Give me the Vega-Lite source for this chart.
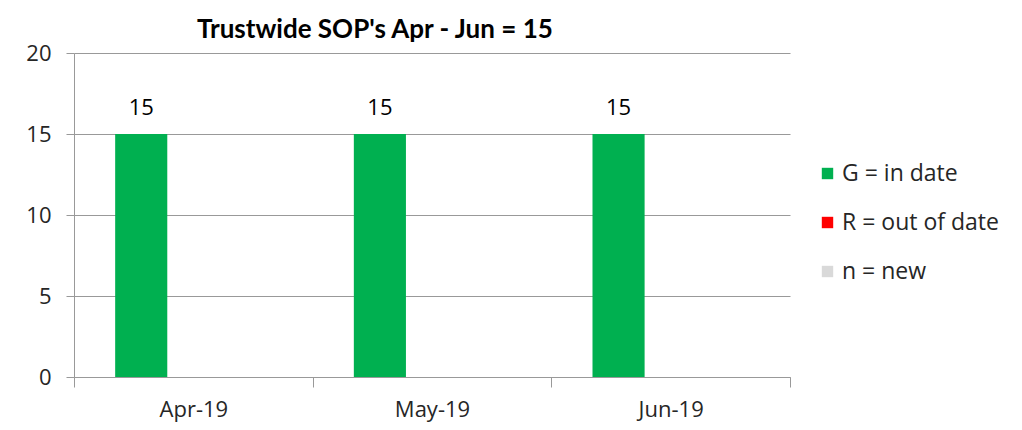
{
  "$schema": "https://vega.github.io/schema/vega-lite/v6.json",
  "width": 716,
  "height": 324,
  "autosize": {"type": "none"},
  "padding": {"left": 74, "top": 53, "right": 232, "bottom": 53},
  "background": "white",
  "title": {
    "text": "Trustwide SOP's Apr - Jun  = 15",
    "anchor": "start",
    "frame": "group",
    "dx": 123,
    "offset": -1,
    "font": "Lato",
    "fontSize": 26,
    "fontWeight": "bold",
    "color": "#000000"
  },
  "data": {
    "values": [
      {"month": "Apr-19", "status": "G = in date", "count": 15},
      {"month": "Apr-19", "status": "R = out of date", "count": 0},
      {"month": "Apr-19", "status": "n = new", "count": 0},
      {"month": "May-19", "status": "G = in date", "count": 15},
      {"month": "May-19", "status": "R = out of date", "count": 0},
      {"month": "May-19", "status": "n = new", "count": 0},
      {"month": "Jun-19", "status": "G = in date", "count": 15},
      {"month": "Jun-19", "status": "R = out of date", "count": 0},
      {"month": "Jun-19", "status": "n = new", "count": 0}
    ]
  },
  "encoding": {
    "x": {
      "field": "month",
      "type": "nominal",
      "sort": ["Apr-19", "May-19", "Jun-19"],
      "scale": {"paddingInner": 0, "paddingOuter": 0},
      "axis": {
        "title": null,
        "labelAngle": 0,
        "tickBand": "extent",
        "tickSize": 10,
        "labelPadding": 12,
        "domainColor": "#999999",
        "tickColor": "#999999",
        "labelFont": "Open Sans",
        "labelFontSize": 22,
        "labelColor": "#262626",
        "grid": false
      }
    },
    "xOffset": {
      "field": "status",
      "type": "nominal",
      "sort": ["G = in date", "R = out of date", "n = new"],
      "scale": {"paddingInner": 0, "paddingOuter": 0.79}
    },
    "y": {
      "field": "count",
      "type": "quantitative",
      "scale": {"domain": [0, 20]},
      "axis": {
        "title": null,
        "values": [0, 5, 10, 15, 20],
        "tickSize": 8,
        "labelPadding": 15,
        "domainColor": "#999999",
        "tickColor": "#999999",
        "gridColor": "#999999",
        "labelFont": "Open Sans",
        "labelFontSize": 22,
        "labelColor": "#262626"
      }
    }
  },
  "layer": [
    {
      "mark": {"type": "bar"},
      "encoding": {
        "color": {
          "field": "status",
          "type": "nominal",
          "sort": ["G = in date", "R = out of date", "n = new"],
          "scale": {
            "domain": ["G = in date", "R = out of date", "n = new"],
            "range": ["#00B050", "#FF0000", "#D9D9D9"]
          },
          "legend": {
            "title": null,
            "orient": "none",
            "legendX": 742,
            "legendY": 109,
            "symbolType": "square",
            "symbolSize": 130,
            "symbolStrokeWidth": 0,
            "labelFont": "Open Sans",
            "labelFontSize": 23,
            "labelColor": "#262626",
            "rowPadding": 25,
            "labelOffset": 3
          }
        }
      }
    },
    {
      "transform": [{"filter": "datum.count > 0"}],
      "mark": {"type": "text", "baseline": "bottom", "dy": -14, "font": "Open Sans", "fontSize": 22, "color": "#000000"},
      "encoding": {
        "text": {"field": "count", "type": "quantitative"}
      }
    }
  ],
  "config": {
    "view": {"stroke": null}
  }
}
